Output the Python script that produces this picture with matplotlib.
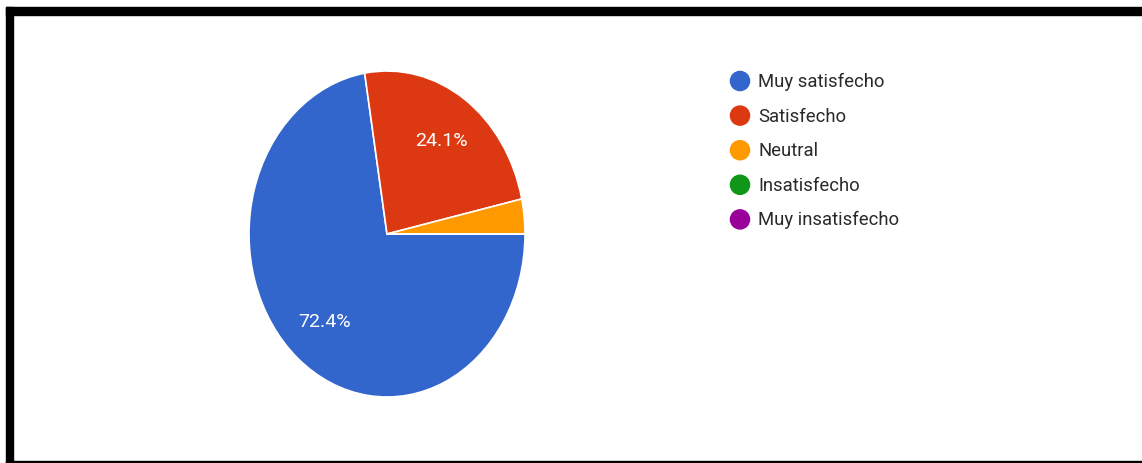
import matplotlib.pyplot as plt
from matplotlib.patches import Rectangle

plt.rcParams['font.family'] = ['Roboto', 'Liberation Sans', 'DejaVu Sans']

labels = ['Muy satisfecho', 'Satisfecho', 'Neutral', 'Insatisfecho', 'Muy insatisfecho']
counts = [21, 7, 1, 0, 0]
colors = ['#3366cc', '#dc3912', '#ff9900', '#109618', '#990099']

W, H = 1142, 464
fig = plt.figure(figsize=(W / 100, H / 100), dpi=100)


def px_axes(x0, y0, x1, y1):
    # axes placed by pixel box (top-left origin)
    return fig.add_axes([x0 / W, 1 - y1 / H, (x1 - x0) / W, (y1 - y0) / H])


# pie (stretched vertically, so aspect is left free)
ax = px_axes(249, 72, 525, 398)


def pct(p):
    return '%.1f%%' % p if p >= 5 else ''


wedges, _, autotexts = ax.pie(counts, colors=colors, startangle=0, counterclock=False,
                              autopct=pct, pctdistance=0.7,
                              wedgeprops=dict(edgecolor='white', linewidth=1.2))
for t in autotexts:
    t.set_color('white')
    t.set_fontsize(14)
ax.set_aspect('auto')
ax.set_xlim(-1, 1)
ax.set_ylim(-1, 1)
ax.axis('off')

# overlay for the legend and the frame, in pixel units
ov = fig.add_axes([0, 0, 1, 1])
ov.set_xlim(0, W)
ov.set_ylim(H, 0)
ov.axis('off')

ys = [82 + 34.6 * i for i in range(len(labels))]
ov.scatter([740] * len(labels), ys, s=190, c=colors, zorder=3)
for y, lab in zip(ys, labels):
    ov.text(758, y, lab, fontsize=13.3, color='#2a2a2a', va='center', ha='left')

ov.add_patch(Rectangle((6, 8), W - 6, 8, color='black'))
ov.add_patch(Rectangle((6, 8), 7, H - 8, color='black'))
ov.add_patch(Rectangle((6, H - 2), W - 6, 2, color='black'))

fig.savefig('out.png', dpi=100)
